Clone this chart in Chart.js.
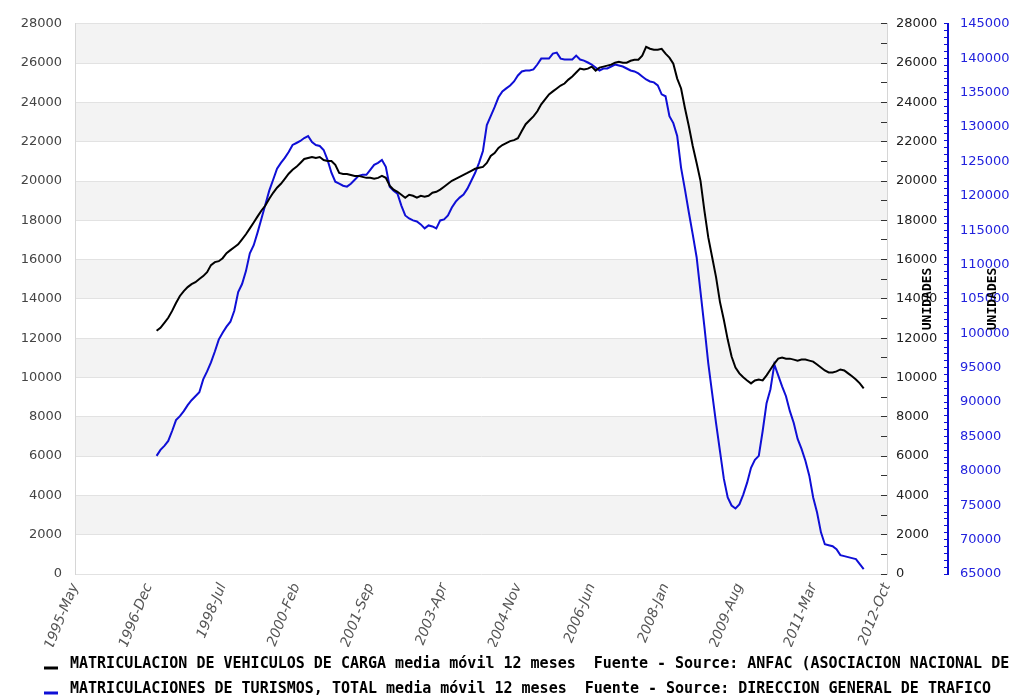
<!DOCTYPE html>
<html>
<head>
<meta charset="utf-8">
<script src="https://cdn.jsdelivr.net/npm/chart.js@4.4.0/dist/chart.umd.min.js"></script>
<style>
    html, body { margin: 0; padding: 0; background: #fff; }
</style>
</head>
<body>
<canvas id="GraficoMatriculaciones" width="1016" height="697"></canvas>
<script>
// etiquetas visibles del eje x (una cada 19 meses)
var etiquetasEje = ['1995-May', '1996-Dec', '1998-Jul', '2000-Feb', '2001-Sep', '2003-Apr',
    '2004-Nov', '2006-Jun', '2008-Jan', '2009-Aug', '2011-Mar', '2012-Oct'];
var nombresMes = ['Jan', 'Feb', 'Mar', 'Apr', 'May', 'Jun', 'Jul', 'Aug', 'Sep', 'Oct', 'Nov', 'Dec'];
var primerAnio = 1995, primerMes = 4, totalMeses = 210;
var inicioSeries = 21; // 1997-Feb

// media movil 12 meses, vehiculos de carga (eje izquierdo)
var carga = [
    12380, 12530, 12780, 13040, 13390, 13790, 14150, 14400, 14600, 14750,
    14850, 15010, 15160, 15360, 15720, 15870, 15920, 16070, 16330, 16480,
    16630, 16780, 17030, 17290, 17590, 17890, 18200, 18500, 18750, 19100,
    19400, 19660, 19860, 20110, 20370, 20570, 20720, 20920, 21120, 21170,
    21220, 21170, 21220, 21070, 21020, 21020, 20820, 20410, 20360, 20360,
    20310, 20260, 20260, 20210, 20160, 20160, 20110, 20160, 20260, 20160,
    19760, 19560, 19450, 19300, 19150, 19300, 19250, 19150, 19250, 19200,
    19250, 19400, 19450, 19560, 19710, 19860, 20010, 20110, 20210, 20310,
    20410, 20520, 20620, 20670, 20720, 20920, 21270, 21420, 21680, 21830,
    21930, 22030, 22080, 22180, 22540, 22890, 23090, 23290, 23550, 23900,
    24150, 24410, 24560, 24710, 24860, 24960, 25160, 25320, 25520, 25720,
    25670, 25720, 25820, 25620, 25770, 25820, 25870, 25920, 26020, 26070,
    26020, 26020, 26120, 26170, 26170, 26380, 26830, 26730, 26680, 26680,
    26730, 26480, 26280, 25970, 25210, 24710, 23700, 22790, 21780, 20920,
    20010, 18490, 17130, 16120, 15110, 13850, 12940, 11930, 11070, 10510,
    10210, 10010, 9850, 9700, 9850, 9900, 9850, 10110, 10410, 10710,
    10960, 11020, 10960, 10960, 10910, 10860, 10910, 10910, 10860, 10810,
    10660, 10510, 10360, 10260, 10260, 10310, 10410, 10360, 10210, 10060,
    9900, 9700, 9450
];

// media movil 12 meses, turismos (eje azul)
var turismos = [
    82180, 83050, 83630, 84350, 85790, 87380, 87960, 88680, 89550, 90270,
    90850, 91430, 93300, 94460, 95760, 97350, 99080, 100090, 100960, 101680,
    103270, 106010, 107160, 109040, 111640, 112800, 114670, 116700, 118720, 120740,
    122330, 123920, 124780, 125500, 126370, 127380, 127670, 127960, 128390, 128680,
    127810, 127380, 127240, 126660, 125210, 123340, 122040, 121750, 121460, 121320,
    121750, 122330, 122900, 123050, 123050, 123770, 124490, 124780, 125210, 124200,
    121320, 120740, 120310, 118570, 117130, 116700, 116410, 116260, 115830, 115250,
    115680, 115540, 115250, 116410, 116550, 117130, 118280, 119150, 119730, 120160,
    121030, 122180, 123340, 124780, 126510, 130270, 131570, 132870, 134310, 135180,
    135610, 136040, 136620, 137490, 138070, 138210, 138210, 138360, 139080, 139940,
    139940, 139940, 140670, 140810, 139940, 139800, 139800, 139800, 140380, 139800,
    139650, 139370, 139080, 138640, 138210, 138500, 138500, 138790, 139080, 138930,
    138790, 138500, 138210, 138070, 137780, 137340, 136910, 136620, 136480, 136040,
    134750, 134460, 131570, 130560, 128680, 124060, 120880, 117560, 114380, 111060,
    106010, 100960, 95610, 91280, 86950, 82910, 78860, 76120, 74960, 74530,
    75110, 76550, 78280, 80450, 81610, 82180, 85790, 89840, 91860, 95470,
    93880, 92290, 90850, 88680, 86950, 84640, 83190, 81460, 79300, 76120,
    73950, 71060, 69330, 69190, 69040, 68610, 67740, 67600, 67450, 67310,
    67170, 66440, 65720
];

var nomeCarga = 'MATRICULACION DE VEHICULOS DE CARGA media m\u00f3vil 12 meses  Fuente - Source: ANFAC (ASOCIACION NACIONAL DE';
var nomeTurismos = 'MATRICULACIONES DE TURISMOS, TOTAL media m\u00f3vil 12 meses  Fuente - Source: DIRECCION GENERAL DE TRAFICO';

var corAzul = '#0f0fd6';

function MontarMeses() {
    var meses = [];
    for (var k = 0; k < totalMeses; k++) {
        var m = primerMes + k;
        meses.push((primerAnio + Math.floor(m / 12)) + '-' + nombresMes[m % 12]);
    }
    return meses;
}

function Alinhar(valores) {
    var saida = [];
    for (var k = 0; k < inicioSeries; k++) saida.push(null);
    return saida.concat(valores);
}

// franjas grises alternas detras del grafico
var franjas = {
    id: 'franjas',
    beforeDraw: function (chart) {
        var ctx = chart.ctx, area = chart.chartArea, y = chart.scales.y;
        ctx.save();
        ctx.fillStyle = '#f3f3f3';
        for (var v = 2000; v < 28000; v += 4000) {
            var top = y.getPixelForValue(v + 2000), bot = y.getPixelForValue(v);
            ctx.fillRect(area.left, top, area.right - area.left, bot - top);
        }
        ctx.restore();
    }
};

// leyenda y titulos de los ejes derechos
var textos = {
    id: 'textos',
    afterDraw: function (chart) {
        var ctx = chart.ctx;
        ctx.save();
        // la zona de la leyenda tapa el final de las etiquetas del eje x
        ctx.fillStyle = '#fff';
        ctx.fillRect(0, 648, chart.width, chart.height - 648);

        ctx.font = 'bold 15px "DejaVu Sans Mono"';
        ctx.textBaseline = 'middle';
        chart.data.datasets.forEach(function (ds, i) {
            var yFila = 664 + i * 25;
            ctx.strokeStyle = ds.borderColor;
            ctx.lineWidth = 3;
            ctx.beginPath();
            ctx.moveTo(44, yFila + 4);
            ctx.lineTo(58, yFila + 4);
            ctx.stroke();
            ctx.fillStyle = '#000';
            ctx.fillText(ds.label, 70, yFila);
        });

        ctx.font = 'bold 13px "DejaVu Sans Mono"';
        ctx.textAlign = 'center';
        var yMeio = (chart.chartArea.top + chart.chartArea.bottom) / 2;
        [[chart.scales.y1.left + 41, yMeio], [chart.scales.y2.left + 45, yMeio]].forEach(function (p) {
            ctx.save();
            ctx.translate(p[0], p[1]);
            ctx.rotate(-Math.PI / 2);
            ctx.fillText('UNIDADES', 0, 0);
            ctx.restore();
        });
        ctx.restore();
    }
};

Chart.defaults.font.family = '"DejaVu Sans"';

var ctx = document.getElementById('GraficoMatriculaciones').getContext('2d');

var grafico = new Chart(ctx, {
    type: 'line',
    data: {
        labels: MontarMeses(),
        datasets: [{
            label: nomeCarga,
            data: Alinhar(carga),
            borderColor: '#000000',
            borderWidth: 2,
            pointRadius: 0,
            tension: 0,
            yAxisID: 'y'
        }, {
            label: nomeTurismos,
            data: Alinhar(turismos),
            borderColor: corAzul,
            borderWidth: 2,
            pointRadius: 0,
            tension: 0,
            yAxisID: 'y2'
        }]
    },
    options: {
        responsive: false,
        animation: false,
        layout: { padding: { left: 0, right: 0, top: 20, bottom: 50 } },
        plugins: {
            legend: { display: false },
            tooltip: { enabled: false }
        },
        scales: {
            x: {
                grid: { display: false, drawTicks: false },
                border: { display: false },
                ticks: {
                    autoSkip: false,
                    minRotation: 68,
                    maxRotation: 68,
                    padding: 7,
                    color: '#555',
                    font: { size: 14, style: 'italic' },
                    callback: function (val) {
                        var rotulo = this.getLabelForValue(val);
                        return etiquetasEje.indexOf(rotulo) >= 0 ? rotulo : '';
                    }
                },
                afterFit: function (scale) { scale.height = 73; }
            },
            y: {
                position: 'left',
                min: 0,
                max: 28000,
                grid: { color: '#e2e2e2', drawTicks: false },
                border: { color: '#d6d6d6' },
                ticks: {
                    stepSize: 2000,
                    padding: 13,
                    color: '#444',
                    font: { size: 13 },
                    callback: function (v) { return String(v); }
                },
                afterFit: function (scale) { scale.width = 75; }
            },
            y1: {
                position: 'right',
                min: 0,
                max: 28000,
                grid: { drawOnChartArea: false, tickLength: -6, tickColor: '#333' },
                border: { color: '#d6d6d6' },
                ticks: {
                    stepSize: 1000,
                    autoSkip: false,
                    padding: 15,
                    color: '#222',
                    font: { size: 13 },
                    callback: function (v) { return v % 2000 === 0 ? String(v) : ''; }
                },
                afterFit: function (scale) { scale.width = 61; }
            },
            y2: {
                position: 'right',
                min: 65000,
                max: 145000,
                grid: { drawOnChartArea: false, tickLength: -4, tickColor: corAzul },
                border: { color: corAzul, width: 2 },
                ticks: {
                    stepSize: 1000,
                    autoSkip: false,
                    padding: 16,
                    color: '#2222dd',
                    font: { size: 13 },
                    callback: function (v) { return v % 5000 === 0 ? String(v) : ''; }
                },
                afterFit: function (scale) { scale.width = 68; }
            }
        }
    },
    plugins: [franjas, textos]
});
</script>
</body>
</html>
